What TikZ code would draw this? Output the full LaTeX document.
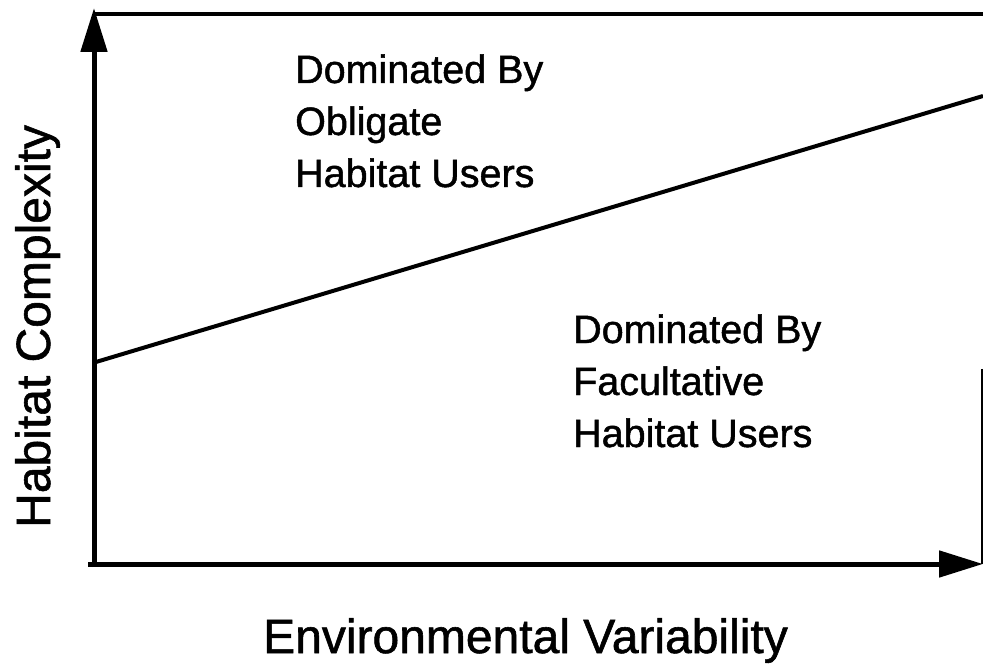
\documentclass[tikz,border=0pt]{standalone}
\usepackage{fontspec}
\setmainfont[UprightFeatures={FakeBold=1.2}]{Liberation Sans}
\usetikzlibrary{arrows.meta}

\begin{document}
\begin{tikzpicture}[
  x=1pt, y=-1pt,
  axis/.style={line width=5pt, -{Triangle[length=44pt, width=26pt]}},
  border/.style={line width=4pt},
  region/.style={anchor=base west, inner sep=0pt, align=left,
                 font=\fontsize{39.5}{52}\selectfont},
  axislabel/.style={anchor=base west, inner sep=0pt,
                    font=\fontsize{48}{58}\selectfont},
]
  \useasboundingbox[fill=white] (0,0) rectangle (983,668);

  % frame of the plot
  \coordinate (origin) at (94,567);
  \coordinate (ytip) at (94,8);
  \coordinate (xstart) at (88,564);
  \coordinate (xtip) at (983,564);
  \coordinate (topleft) at (94,14);
  \coordinate (topright) at (983,14);
  \coordinate (rtop) at (982,369);
  \coordinate (rbottom) at (982,564);
  \coordinate (lineleft) at (96,362);
  \coordinate (lineright) at (983,96);

  \draw[border] (topleft) -- (topright);
  \draw[line width=1.5pt] (rtop) -- (rbottom);
  \draw[border] (lineleft) -- (lineright);
  \draw[axis] (origin) -- (ytip);
  \draw[axis] (xstart) -- (xtip);

  % regions (base is the last line)
  \node[region] (obligate) at (295,187) {Dominated By\\Obligate\\Habitat Users};
  \node[region] (facultative) at (573,447) {Dominated By\\Facultative\\Habitat Users};

  % axis labels
  \node[axislabel] (xlabel) at (263,653) {Environmental Variability};
  \node[axislabel, rotate=90] (ylabel) at (50,528) {Habitat Complexity};
\end{tikzpicture}
\end{document}
